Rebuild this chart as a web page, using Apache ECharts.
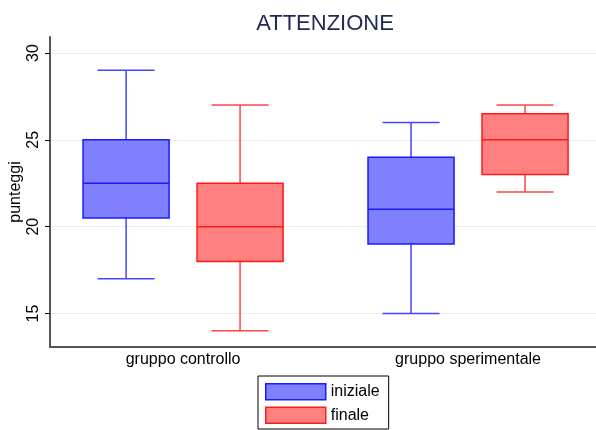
<!DOCTYPE html>
<html>
<head>
<meta charset="utf-8">
<script src="https://cdn.jsdelivr.net/npm/echarts@6/dist/echarts.min.js"></script>
<style>
  html, body { margin: 0; padding: 0; background: #fff; }
  #chart { width: 596px; height: 430px; }
</style>
</head>
<body>
<div id="chart"></div>
<script>
const categories = ['gruppo controllo', 'gruppo sperimentale']
const catPos = [0, 1]
// [min, q1, median, q3, max]
const iniziale = [[17, 20.5, 22.5, 25, 29], [15, 19, 21, 24, 26]]
const finale = [[14, 18, 20, 22.5, 27], [22, 23, 25, 26.5, 27]]
const yTicks = [15, 20, 25, 30]

const font = 'Liberation Sans, Arial, sans-serif'

// box drawn with the axes' own coords
function makeRender(offset, stroke, whisker) {
  return function (params, api) {
    const c = api.value(0)
    const unit = api.size([1, 0])[0]
    const cx = api.coord([c + offset, 0])[0]
    const y = (k) => api.coord([c, api.value(k)])[1]
    const half = unit * 0.151
    const cap = unit * 0.1
    const wStyle = { stroke: whisker, lineWidth: 1.5 }
    return {
      type: 'group',
      children: [
        { type: 'line', shape: { x1: cx, y1: y(1), x2: cx, y2: y(2) }, style: wStyle },
        { type: 'line', shape: { x1: cx, y1: y(4), x2: cx, y2: y(5) }, style: wStyle },
        { type: 'line', shape: { x1: cx - cap, y1: y(1), x2: cx + cap, y2: y(1) }, style: wStyle },
        { type: 'line', shape: { x1: cx - cap, y1: y(5), x2: cx + cap, y2: y(5) }, style: wStyle },
        {
          type: 'rect',
          shape: { x: cx - half, y: y(4), width: half * 2, height: y(2) - y(4) },
          style: { fill: api.visual('color'), stroke: stroke, lineWidth: 1.5 }
        },
        { type: 'line', shape: { x1: cx - half, y1: y(3), x2: cx + half, y2: y(3) }, style: { stroke: stroke, lineWidth: 1.5 } }
      ]
    }
  }
}

const toData = (arr) => arr.map((d, i) => [catPos[i]].concat(d))

const chart = echarts.init(document.getElementById('chart'))
chart.setOption({
  animation: false,
  textStyle: { fontFamily: font },
  title: {
    text: 'ATTENZIONE',
    left: 320,
    textAlign: 'center',
    top: 8,
    textStyle: { fontSize: 22, fontWeight: 'normal', color: '#1e2a52', fontFamily: font }
  },
  legend: {
    orient: 'vertical',
    left: 258,
    bottom: 1,
    padding: [7, 9, 5, 7],
    itemWidth: 60,
    itemHeight: 16,
    itemGap: 6,
    borderColor: '#000',
    borderWidth: 1,
    textStyle: { fontSize: 16, lineHeight: 16, color: '#000', fontFamily: font },
    data: [
      { name: 'iniziale', icon: 'rect', itemStyle: { color: '#8080ff', borderColor: '#1a1aff', borderWidth: 1.5 } },
      { name: 'finale', icon: 'rect', itemStyle: { color: '#ff8080', borderColor: '#ff1a1a', borderWidth: 1.5 } }
    ]
  },
  grid: { left: 50, right: 0, top: 37, bottom: 83, outerBoundsMode: 'none', containLabel: false },
  xAxis: {
    type: 'value',
    min: -0.467,
    max: 1.449,
    axisLine: { show: true, onZero: false, lineStyle: { color: '#555', width: 2 } },
    axisTick: { show: false },
    splitLine: { show: false },
    axisLabel: {
      fontSize: 16, color: '#000', margin: 5,
      customValues: catPos,
      formatter: (v) => categories[catPos.indexOf(Math.round(v))] || ''
    }
  },
  yAxis: {
    type: 'value',
    min: 13.07,
    max: 30.92,
    name: 'punteggi',
    nameLocation: 'middle',
    nameGap: 26,
    nameMoveOverlap: false,
    nameTextStyle: { fontSize: 16, color: '#000' },
    axisLine: { show: true, onZero: false, lineStyle: { color: '#555', width: 2 } },
    axisTick: { show: true, length: 5, customValues: yTicks, lineStyle: { color: '#000' } },
    axisLabel: { fontSize: 16, color: '#000', rotate: 90, margin: 8, customValues: yTicks },
    splitLine: { show: true, lineStyle: { color: '#e8eff1', width: 1 } }
  },
  series: [
    {
      name: 'iniziale',
      type: 'custom',
      renderItem: makeRender(-0.2, '#1a1aff', '#4545ff'),
      itemStyle: { color: '#8080ff' },
      encode: { x: 0, y: [1, 2, 3, 4, 5] },
      data: toData(iniziale)
    },
    {
      name: 'finale',
      type: 'custom',
      renderItem: makeRender(0.2, '#ff1a1a', '#ff4545'),
      itemStyle: { color: '#ff8080' },
      encode: { x: 0, y: [1, 2, 3, 4, 5] },
      data: toData(finale)
    }
  ]
})
</script>
</body>
</html>
